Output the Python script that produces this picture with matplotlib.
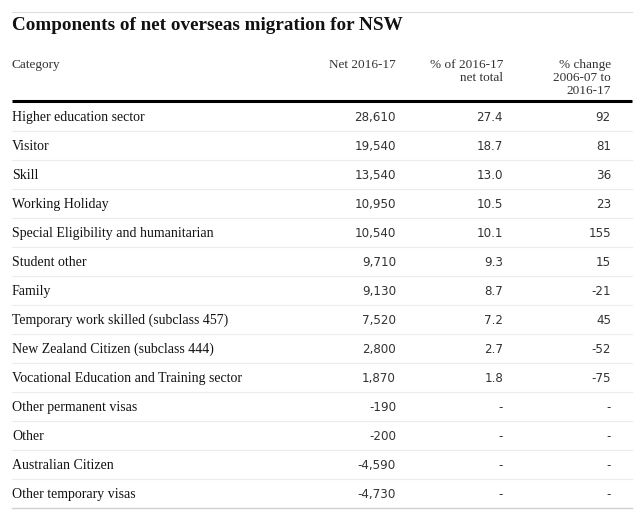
import matplotlib.pyplot as plt

categories = [
    "Higher education sector", "Visitor", "Skill", "Working Holiday",
    "Special Eligibility and humanitarian", "Student other", "Family",
    "Temporary work skilled (subclass 457)", "New Zealand Citizen (subclass 444)",
    "Vocational Education and Training sector", "Other permanent visas",
    "Other", "Australian Citizen", "Other temporary visas",
]
net_2016_17 = [28610, 19540, 13540, 10950, 10540, 9710, 9130, 7520, 2800, 1870,
               -190, -200, -4590, -4730]
pct_of_total = [27.4, 18.7, 13.0, 10.5, 10.1, 9.3, 8.7, 7.2, 2.7, 1.8,
                None, None, None, None]
pct_change = [92, 81, 36, 23, 155, 15, -21, 45, -52, -75,
              None, None, None, None]
headers = ["Category", "Net 2016-17", "% of 2016-17\nnet total",
           "% change\n2006-07 to\n2016-17"]

W, H = 639, 517
fig = plt.figure(figsize=(W / 100, H / 100), dpi=100)
ax = fig.add_axes([0, 0, 1, 1])
ax.set_xlim(0, W)
ax.set_ylim(H, 0)
ax.axis('off')

serif = 'Liberation Serif'
sans = 'DejaVu Sans'
dark = '#121212'
grey = '#333333'

# top rule and title
ax.plot([12, 632], [12, 12], color='#dcdcdc', lw=0.8)
ax.text(12, 30, "Components of net overseas migration for NSW", fontsize=13.8,
        fontweight='bold', family=serif, color=dark, va='baseline')

# header
col_right = [396, 503, 611]
ax.text(12, 68.2, headers[0], fontsize=9.5, family=serif, color=grey, va='baseline')
for x, h in zip(col_right, headers[1:]):
    ax.text(x, 59.2, h, fontsize=9.5, family=serif, color=grey, ha='right',
            va='top', linespacing=1.12)
ax.plot([12, 632], [101, 101], color='#000000', lw=2.2, solid_capstyle='butt')

# rows
row_h = 29
for i, cat in enumerate(categories):
    y = 121.2 + i * row_h
    ax.text(12, y, cat, fontsize=10, family=serif, color=dark, va='baseline')
    ax.text(col_right[0], y, f"{net_2016_17[i]:,}", fontsize=8.6, family=sans,
            color=grey, ha='right', va='baseline')
    p = pct_of_total[i]
    ax.text(col_right[1], y, "-" if p is None else f"{p:.1f}", fontsize=8.6,
            family=sans, color=grey, ha='right', va='baseline')
    c = pct_change[i]
    ax.text(col_right[2], y, "-" if c is None else f"{c}", fontsize=8.6,
            family=sans, color=grey, ha='right', va='baseline')
    last = i == len(categories) - 1
    ax.plot([12, 632], [y + 9.8, y + 9.8], color='#d0d0d0' if last else '#ececec',
            lw=1.0 if last else 0.8)

fig.savefig('out.png', dpi=100)
